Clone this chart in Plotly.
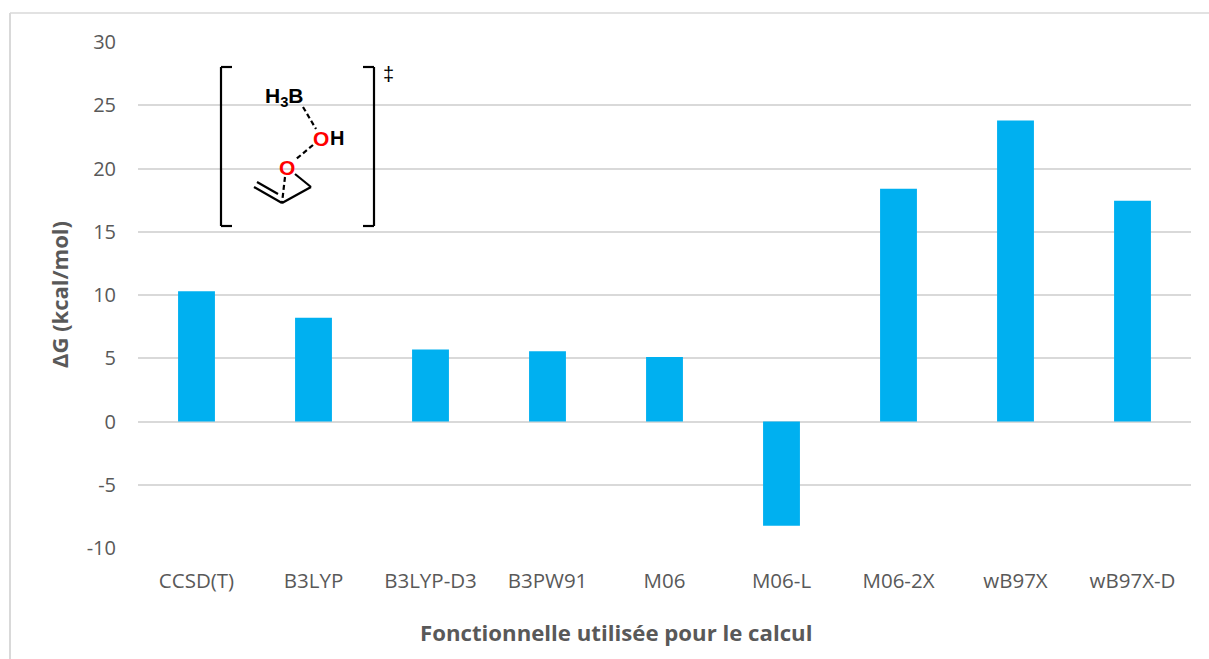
import plotly.graph_objects as go

categories = ["CCSD(T)", "B3LYP", "B3LYP-D3", "B3PW91", "M06", "M06-L", "M06-2X", "wB97X", "wB97X-D"]
delta_g = [10.3, 8.2, 5.7, 5.55, 5.1, -8.25, 18.4, 23.8, 17.45]
y_ticks = [-10, -5, 0, 5, 10, 15, 20, 25, 30]
y_tick_text = ["-10", "-5", "0", "5", "10", "15", "20", "25", "30"]
y_title = "ΔG (kcal/mol)"
x_title = "Fonctionnelle utilisée pour le calcul"

W, H = 1209, 659
L, R, T, B = 138, 1191, 42, 548
FONT = "Open Sans"
TXT = "#595959"
GRID = "#d9d9d9"


def px(x):
    return (x - L) / (R - L)


def py(y):
    return (B - y) / (B - T)


def seg(x0, y0, x1, y1, color="black", width=2.2, dash="solid"):
    return dict(type="line", xref="paper", yref="paper", x0=px(x0), y0=py(y0), x1=px(x1), y1=py(y1),
                line=dict(color=color, width=width, dash=dash), layer="above")


def label(x, y, text, color="black", size=20, anchor="center"):
    return dict(xref="paper", yref="paper", x=px(x), y=py(y), text=f"<b>{text}</b>", showarrow=False, xanchor=anchor,
                yanchor="middle", font=dict(family="Liberation Sans", size=size, color=color))


shapes = [
    # picture frame
    seg(10, 13, 1209, 13, GRID, 1.5),
    seg(10, 13, 10, 659, GRID, 2),
    # brackets
    seg(232, 67, 221, 67), seg(221, 67, 221, 226), seg(221, 226, 232, 226),
    seg(363, 67, 374, 67), seg(374, 67, 374, 226), seg(374, 226, 363, 226),
    # bonds
    seg(303, 107, 316, 129, dash="5px,3px"),
    seg(313, 145, 295, 160, dash="5px,3px"),
    seg(285, 177, 282, 203, dash="5px,3px"),
    seg(282, 203, 311, 187),
    seg(311, 187, 295, 174),
    seg(254, 187, 282, 203),
    seg(257, 182, 278, 194),
]

annotations = [
    label(284.5, 97, "H<sub>3</sub>B", size=21),
    label(320.5, 138, "O", "#ff0000", 21),
    label(337, 138, "H"),
    label(287, 167.5, "O", "#ff0000", 21),
    dict(xref="paper", yref="paper", x=px(388), y=py(74), text="‡", showarrow=False, xanchor="center",
         yanchor="middle", font=dict(family="Liberation Sans", size=20, color="black")),
    dict(xref="paper", yref="paper", x=px(616), y=py(632), text=f"<b>{x_title}</b>", showarrow=False,
         font=dict(family=FONT, size=22.2, color=TXT), xanchor="center", yanchor="middle"),
    dict(xref="paper", yref="paper", x=px(59), y=py(295), text=f"<b>{y_title}</b>", showarrow=False, textangle=-90,
         font=dict(family=FONT, size=22, color=TXT), xanchor="center", yanchor="middle"),
]

fig = go.Figure(go.Bar(x=categories, y=delta_g, marker=dict(color="#00b0f0", line=dict(width=0)), width=0.315))
fig.update_layout(
    width=W, height=H, autosize=False,
    margin=dict(l=L, r=W - R, t=T, b=H - B),
    paper_bgcolor="white", plot_bgcolor="white",
    font=dict(family=FONT, size=20, color=TXT),
    showlegend=False, shapes=shapes, annotations=annotations,
    xaxis=dict(type="category", showgrid=False, zeroline=False, showline=False, ticks="",
               tickangle=0, ticklabelstandoff=18, tickfont=dict(size=20.5, color=TXT)),
    yaxis=dict(range=[-10, 30], tickvals=y_ticks, ticktext=y_tick_text, showgrid=True, gridcolor=GRID, gridwidth=1.5,
               zeroline=True, zerolinecolor=GRID, zerolinewidth=1.5, showline=False, ticks="",
               ticklabelstandoff=21, tickfont=dict(size=20, color=TXT)),
)
fig.write_html("out.html", config=dict(displayModeBar=False),
               post_script="document.body.style.margin='0';")
